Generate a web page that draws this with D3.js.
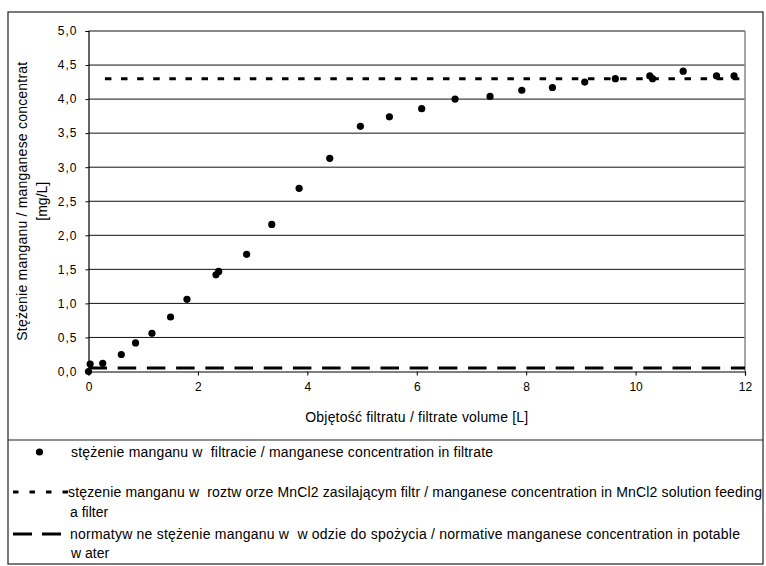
<!DOCTYPE html>
<html>
<head>
<meta charset="utf-8">
<script src="https://cdn.jsdelivr.net/npm/d3@7"></script>
<style>
  body { margin: 0; background: #fff; }
  svg { display: block; }
  text { font-family: "Liberation Sans", Arial, sans-serif; fill: #000; white-space: pre; }
</style>
</head>
<body>
<svg id="chart" width="766" height="566"></svg>
<script>
// Filtrate volume [L] and manganese concentration in filtrate [mg/L]
const volume = [0, 0.03, 0.26, 0.60, 0.86, 1.16, 1.50, 1.80, 2.33, 2.38, 2.89, 3.35, 3.85,
  4.41, 4.97, 5.50, 6.09, 6.70, 7.34, 7.92, 8.48, 9.07, 9.63, 10.26, 10.31, 10.87, 11.48, 11.80];
const concentration = [0.00, 0.11, 0.12, 0.25, 0.42, 0.56, 0.80, 1.06, 1.42, 1.47, 1.72, 2.16, 2.69,
  3.13, 3.60, 3.74, 3.86, 4.00, 4.04, 4.13, 4.17, 4.25, 4.30, 4.34, 4.30, 4.41, 4.34, 4.34];

// Reference levels: MnCl2 feed solution and drinking-water standard
const feedLevel = 4.3;
const feedRange = [0.3, 12];
const normLevel = 0.05;
const normRange = [0, 12];

const xTicks = [0, 2, 4, 6, 8, 10, 12];
const yTicks = [0, 0.5, 1, 1.5, 2, 2.5, 3, 3.5, 4, 4.5, 5];

const xTitle = "Objętość filtratu / filtrate volume [L]";
const yTitleLines = ["Stężenie manganu / manganese concentrat", "[mg/L]"];

const legendDotText = ["stężenie manganu w  filtracie / manganese concentration in filtrate"];
const legendFeedText = ["stęzenie manganu w  roztw orze MnCl2 zasilającym filtr / manganese concentration in MnCl2 solution feeding", "a filter"];
const legendNormText = ["normatyw ne stężenie manganu w  w odzie do spożycia / normative manganese concentration in potable", "w ater"];

const svg = d3.select("#chart");
const plot = { left: 88.5, right: 745, top: 31, bottom: 371.5 };

const x = d3.scaleLinear().domain([0, 12]).range([plot.left, plot.right]);
const y = d3.scaleLinear().domain([0, 5]).range([plot.bottom, plot.top]);
const pl = d3.formatLocale({ decimal: ",", thousands: " ", grouping: [3], currency: ["", ""] });
const fmtY = pl.format(".1f");

// outer frame and divider between chart and legend
svg.append("rect").attr("x", 8).attr("y", 12).attr("width", 755).attr("height", 552)
  .attr("fill", "none").attr("stroke", "#222").attr("stroke-width", 1.2);
svg.append("line").attr("x1", 8).attr("x2", 763).attr("y1", 440).attr("y2", 440)
  .attr("stroke", "#222").attr("stroke-width", 1.2);

// horizontal gridlines
svg.append("g").selectAll("line").data(yTicks.filter(d => d > 0)).join("line")
  .attr("x1", plot.left).attr("x2", plot.right)
  .attr("y1", d => y(d)).attr("y2", d => y(d))
  .attr("stroke", "#111").attr("stroke-width", 1);

// right edge of the plot area
svg.append("line").attr("x1", plot.right).attr("x2", plot.right)
  .attr("y1", plot.top).attr("y2", plot.bottom)
  .attr("stroke", "#888").attr("stroke-width", 1.5);

// axes
const gx = svg.append("g").attr("transform", `translate(0,${plot.bottom})`)
  .call(d3.axisBottom(x).tickValues(xTicks).tickSize(4).tickPadding(7).tickFormat(d3.format("d")));
const gy = svg.append("g").attr("transform", `translate(${plot.left},0)`)
  .call(d3.axisLeft(y).tickValues(yTicks).tickSize(3).tickPadding(8).tickFormat(fmtY));
[gx, gy].forEach(g => {
  g.select(".domain").attr("stroke", "#000").attr("stroke-width", 1.2);
  g.selectAll(".tick line").attr("stroke", "#000");
  g.selectAll("text").attr("fill", "#000").style("font-family", '"Liberation Sans", Arial, sans-serif')
    .style("font-size", "12px");
});
gy.selectAll("text").style("letter-spacing", "1px");

// reference lines
svg.append("line")
  .attr("x1", x(normRange[0])).attr("x2", x(normRange[1]))
  .attr("y1", y(normLevel)).attr("y2", y(normLevel))
  .attr("stroke", "#000").attr("stroke-width", 3).attr("stroke-dasharray", "18.5,10.7");
svg.append("line")
  .attr("x1", x(feedRange[0])).attr("x2", x(feedRange[1]))
  .attr("y1", y(feedLevel)).attr("y2", y(feedLevel))
  .attr("stroke", "#000").attr("stroke-width", 3).attr("stroke-dasharray", "6.5,9.6");

// measured points
svg.append("g").selectAll("circle").data(d3.zip(volume, concentration)).join("circle")
  .attr("cx", d => x(d[0])).attr("cy", d => y(d[1])).attr("r", 3.6).attr("fill", "#000");

// axis titles
svg.append("text").attr("x", (plot.left + plot.right) / 2).attr("y", 417.5).attr("dy", "0.35em")
  .attr("text-anchor", "middle").style("font-size", "14px")
  .attr("textLength", 223).attr("lengthAdjust", "spacing").text(xTitle);
const yMid = (plot.top + plot.bottom) / 2;
svg.append("text").attr("transform", `translate(22,${yMid}) rotate(-90)`).attr("dy", "0.35em")
  .attr("text-anchor", "middle").style("font-size", "14px")
  .attr("textLength", 279).attr("lengthAdjust", "spacing").text(yTitleLines[0]);
svg.append("text").attr("transform", `translate(42,${yMid}) rotate(-90)`).attr("dy", "0.35em")
  .attr("text-anchor", "middle").style("font-size", "14px").text(yTitleLines[1]);

// legend
const lg = svg.append("g");
lg.append("circle").attr("cx", 39.5).attr("cy", 452).attr("r", 3.6).attr("fill", "#000");
lg.append("line").attr("x1", 13).attr("x2", 69).attr("y1", 492).attr("y2", 492)
  .attr("stroke", "#000").attr("stroke-width", 3).attr("stroke-dasharray", "5.5,11");
lg.append("line").attr("x1", 13).attr("x2", 61).attr("y1", 534).attr("y2", 534)
  .attr("stroke", "#000").attr("stroke-width", 3).attr("stroke-dasharray", "19,10");

const legendRows = [
  { text: legendDotText[0], x: 71, y: 452, len: 422 },
  { text: legendFeedText[0], x: 68, y: 492, len: 694 },
  { text: legendFeedText[1], x: 70, y: 512, len: null },
  { text: legendNormText[0], x: 70, y: 534, len: 670 },
  { text: legendNormText[1], x: 71, y: 553, len: null }
];
legendRows.forEach(r => {
  const t = lg.append("text").attr("x", r.x).attr("y", r.y).attr("dy", "0.35em")
    .style("font-size", "14px").text(r.text);
  if (r.len) t.attr("textLength", r.len).attr("lengthAdjust", "spacing");
});
</script>
</body>
</html>
